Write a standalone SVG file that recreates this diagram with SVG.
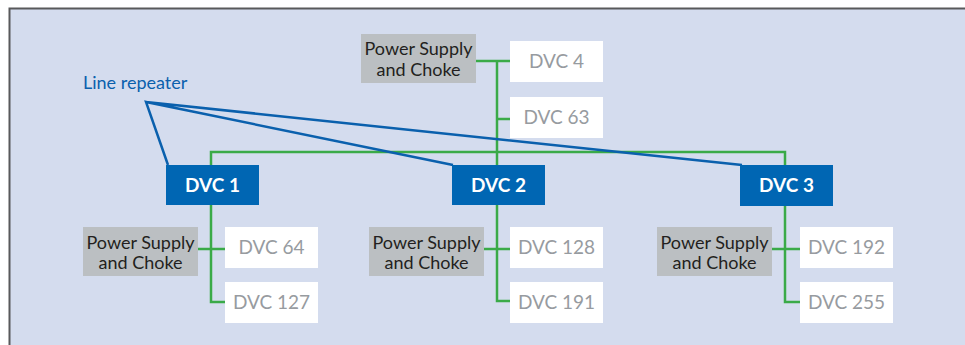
<svg xmlns="http://www.w3.org/2000/svg" width="965" height="345" viewBox="0 0 965 345">
<style>
.ps{fill:#bbbfc2}
.pst{font-family:Lato,"Open Sans",sans-serif;font-size:18px;fill:#231f20;text-anchor:middle}
.dv{fill:#ffffff}
.dvt{font-family:Lato,"Open Sans",sans-serif;font-size:19px;fill:#979ba0;text-anchor:middle}
.mb{fill:#0066b3}
.mbt{font-family:Lato,"Open Sans",sans-serif;font-size:19px;font-weight:bold;fill:#ffffff;text-anchor:middle}
.g{stroke:#3aaa48;stroke-width:2.5;fill:none}
.b{stroke:#0a60ad;stroke-width:2.5;fill:none}
</style>
<rect x="0" y="0" width="965" height="345" fill="#ffffff"/>
<rect x="9" y="8" width="958" height="340" fill="#d4dcee"/>
<path d="M9.5 345 V8.5 H965" stroke="#58595b" stroke-width="2" fill="none"/>
<g id="connectors">
<path class="g" d="M211 165 V152 H785 V165"/>
<path class="g" d="M476 61 H510 M497 61 V165 M497 119 H510"/>
<path class="g" d="M211 205 V302 H225 M198 249 H225"/>
<path class="g" d="M497 205 V301 H510 M484 249 H510"/>
<path class="g" d="M785 206 V302 H800 M772 249 H800"/>
<path class="b" d="M168 165 L146 102 L453 165 M146 102 L742 165"/>
</g>
<g id="line-repeater"><text x="83" y="89" font-family="Lato,'Open Sans',sans-serif" font-size="18" fill="#0a60ad">Line repeater</text></g>
<g id="ps-top"><rect class="ps" x="361" y="34" width="115" height="49"/><text class="pst" x="418.5" y="55">Power Supply</text><text class="pst" x="418.5" y="76">and Choke</text></g>
<g id="dvc4"><rect class="dv" x="510" y="41" width="93" height="41"/><text class="dvt" x="556.5" y="68">DVC 4</text></g>
<g id="dvc63"><rect class="dv" x="510" y="97" width="93" height="41"/><text class="dvt" x="556.5" y="124">DVC 63</text></g>
<g id="dvc1"><rect class="mb" x="166" y="165" width="93" height="40"/><text class="mbt" x="212.5" y="192">DVC 1</text></g>
<g id="dvc2"><rect class="mb" x="452" y="165" width="93" height="40"/><text class="mbt" x="498.5" y="192">DVC 2</text></g>
<g id="dvc3"><rect class="mb" x="740" y="165" width="93" height="41"/><text class="mbt" x="786.5" y="192">DVC 3</text></g>
<g id="ps-1"><rect class="ps" x="83" y="227" width="115" height="49"/><text class="pst" x="140.5" y="249">Power Supply</text><text class="pst" x="140.5" y="269">and Choke</text></g>
<g id="dvc64"><rect class="dv" x="225" y="227" width="93" height="41"/><text class="dvt" x="271.5" y="254">DVC 64</text></g>
<g id="dvc127"><rect class="dv" x="225" y="282" width="93" height="41"/><text class="dvt" x="271.5" y="309">DVC 127</text></g>
<g id="ps-2"><rect class="ps" x="369" y="227" width="115" height="49"/><text class="pst" x="426.5" y="249">Power Supply</text><text class="pst" x="426.5" y="269">and Choke</text></g>
<g id="dvc128"><rect class="dv" x="510" y="227" width="93" height="41"/><text class="dvt" x="556.5" y="254">DVC 128</text></g>
<g id="dvc191"><rect class="dv" x="510" y="282" width="93" height="41"/><text class="dvt" x="556.5" y="309">DVC 191</text></g>
<g id="ps-3"><rect class="ps" x="657" y="227" width="115" height="49"/><text class="pst" x="714.5" y="249">Power Supply</text><text class="pst" x="714.5" y="269">and Choke</text></g>
<g id="dvc192"><rect class="dv" x="800" y="227" width="93" height="41"/><text class="dvt" x="846.5" y="254">DVC 192</text></g>
<g id="dvc255"><rect class="dv" x="800" y="282" width="93" height="41"/><text class="dvt" x="846.5" y="309">DVC 255</text></g>
</svg>
